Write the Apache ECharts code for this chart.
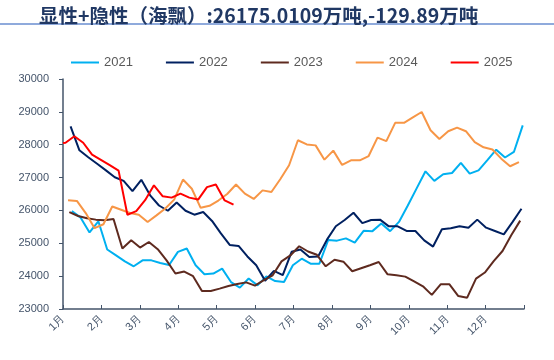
<!DOCTYPE html>
<html>
<head>
<meta charset="utf-8">
<script src="https://cdn.jsdelivr.net/npm/echarts@6/dist/echarts.min.js"></script>
<style>html,body{margin:0;padding:0;background:#fff;}#c{width:554px;height:360px;}</style>
</head>
<body>
<div id="c"></div>
<script>
const titleText = '显性+隐性（海飘）:26175.0109万吨,-129.89万吨';
const years = ['2021', '2022', '2023', '2024', '2025'];
const monthLabels = ['1月','2月','3月','4月','5月','6月','7月','8月','9月','10月','11月','12月'];
const yTicks = { min: 23000, max: 30000, interval: 1000 };
// day of year (0-based) of each year's first weekly (Friday) reading
const firstDay = [7, 6, 5, 4, 2];
// 2025 also has a reading at the very start of the year
const lead2025 = 28050;

const v2021 = [25980,25780,25330,25670,24810,24630,24450,24300,24480,24480,24400,24340,24740,24840,24330,24060,24080,24230,23820,23650,23930,23720,23990,23850,23820,24330,24530,24380,24380,25100,25080,25150,25020,25380,25370,25600,25370,25650,26150,26670,27190,26900,27100,27140,27450,27120,27220,27530,27850,27610,27780,28590];
const v2022 = [28560,27830,27620,27420,27220,27010,26900,26590,26930,26460,26150,25990,26240,25990,25870,25950,25680,25300,24950,24920,24600,24330,23860,24160,24030,24740,24810,24580,24600,25110,25520,25710,25930,25615,25710,25720,25515,25515,25375,25375,25090,24900,25425,25455,25520,25475,25720,25475,25375,25270,25650,26050];
const v2023 = [25950,25830,25760,25720,25700,25740,24840,25090,24870,25040,24820,24480,24080,24140,24000,23550,23550,23620,23700,23760,23810,23710,23880,24025,24450,24630,24910,24750,24650,24300,24500,24440,24150,24240,24330,24430,24055,24025,23985,23840,23690,23430,23750,23750,23395,23345,23925,24110,24455,24765,25250,25690];
const v2024 = [26310,26290,25920,25460,25580,26120,26020,25920,25870,25650,25850,26060,26330,26940,26660,26080,26140,26300,26500,26790,26510,26350,26610,26560,26950,27375,28135,28010,27980,27545,27820,27385,27525,27525,27655,28215,28110,28665,28665,28830,28995,28440,28175,28410,28520,28410,28080,27920,27855,27575,27345,27470];
const v2025 = [28060,28256,28060,27700,27540,27380,27210,25870,25980,26310,26765,26430,26390,26510,26390,26330,26710,26790,26305,26175];

const values = [v2021, v2022, v2023, v2024, v2025];
const colors = ['#00B0F0', '#002060', '#5E2A1F', '#F79646', '#FF0000'];

function toMonths(day) { return day * 12 / 365; }

const series = years.map((name, i) => {
  const data = values[i].map((v, k) => [toMonths(firstDay[i] + 7 * k), v]);
  if (name === '2025') data.unshift([0, lead2025]);
  return {
    name: name,
    type: 'line',
    data: data,
    symbol: 'none',
    lineStyle: { width: 2, color: colors[i] },
    itemStyle: { color: colors[i] },
    z: 2 + i
  };
});

const axisColor = '#44546A';
const chart = echarts.init(document.getElementById('c'), null, { renderer: 'canvas' });
chart.setOption({
  animation: false,
  backgroundColor: '#fff',
  title: {
    text: titleText,
    left: 34,
    top: 1,
    textStyle: { fontFamily: 'Noto Sans CJK SC', fontWeight: 'bold', fontSize: 19.5, color: '#203864' }
  },
  graphic: [{
    type: 'rect',
    shape: { x: 0, y: 23, width: 554, height: 2 },
    style: { fill: '#8FAADC' },
    silent: true
  }],
  legend: {
    data: years,
    left: 66,
    top: 51,
    icon: 'rect',
    itemWidth: 28,
    itemHeight: 2,
    itemGap: 33,
    textStyle: { fontSize: 13, color: '#595959', fontFamily: 'Liberation Sans' }
  },
  grid: { left: 63, right: 30, top: 79, bottom: 51, containLabel: false },
  xAxis: {
    type: 'value',
    min: 0,
    max: 12,
    interval: 1,
    axisLine: { show: true, lineStyle: { color: axisColor, width: 1.5 } },
    axisTick: { show: true, inside: true, length: 4, lineStyle: { color: axisColor } },
    splitLine: { show: false },
    axisLabel: {
      rotate: 45,
      fontSize: 11,
      color: axisColor,
      fontFamily: 'Liberation Sans',
      margin: 8,
      formatter: function (v) {
        const i = Math.round(v);
        return i < 12 ? monthLabels[i] : '';
      }
    }
  },
  yAxis: {
    type: 'value',
    min: yTicks.min,
    max: yTicks.max,
    interval: yTicks.interval,
    axisLine: { show: true, lineStyle: { color: axisColor, width: 1.5 } },
    axisTick: { show: true, inside: false, length: 4, lineStyle: { color: axisColor } },
    splitLine: { show: false },
    axisLabel: { fontSize: 11, color: axisColor, fontFamily: 'Liberation Sans', margin: 14,
      formatter: function (v) { return String(v); } }
  },
  series: series
});
</script>
</body>
</html>
